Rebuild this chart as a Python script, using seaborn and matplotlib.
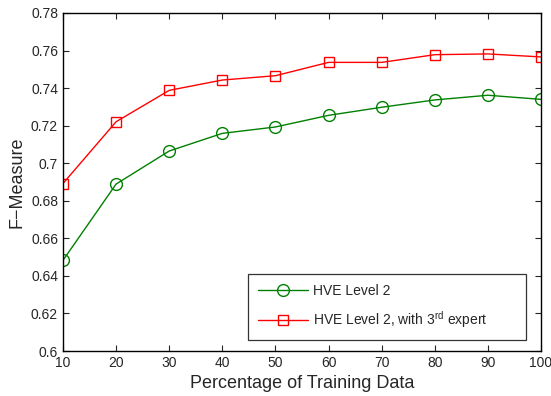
import matplotlib
matplotlib.use("Agg")
import matplotlib.pyplot as plt
import seaborn as sns
import pandas as pd

# ----------------------------------------------------------
# DATA
# ----------------------------------------------------------

train_pct = [10, 20, 30, 40, 50, 60, 70, 80, 90, 100]
hve_level2 = [0.6483, 0.6889, 0.7065, 0.7159, 0.7193, 0.7255, 0.7298, 0.7337, 0.7362, 0.7340]
hve_level2_expert = [0.6892, 0.7221, 0.7388, 0.7443, 0.7466, 0.7537, 0.7537, 0.7578, 0.7582, 0.7566]

y_ticks = [0.6, 0.62, 0.64, 0.66, 0.68, 0.7, 0.72, 0.74, 0.76, 0.78]
y_tick_labels = ["0.6", "0.62", "0.64", "0.66", "0.68", "0.7", "0.72", "0.74", "0.76", "0.78"]
x_ticks = [10, 20, 30, 40, 50, 60, 70, 80, 90, 100]

label_a = "HVE Level 2"
label_b = "HVE Level 2, with 3$^{\\mathrm{rd}}$ expert"

df_a = pd.DataFrame({"pct": train_pct, "fm": hve_level2})
df_b = pd.DataFrame({"pct": train_pct, "fm": hve_level2_expert})

# ----------------------------------------------------------
# PLOT
# ----------------------------------------------------------

sns.set_style("ticks")
plt.rcParams["font.family"] = ["Liberation Sans", "DejaVu Sans"]
plt.rcParams["mathtext.fontset"] = "custom"
plt.rcParams["mathtext.rm"] = "Liberation Sans"
plt.rcParams["xtick.direction"] = "in"
plt.rcParams["ytick.direction"] = "in"

fig = plt.figure(figsize=(5.51, 3.96), dpi=100)
ax = fig.add_axes([0.1143, 0.1136, 0.8676, 0.8536])

sns.lineplot(data=df_a, x="pct", y="fm", ax=ax, color="#008000",
             marker="o", markersize=8.5, markerfacecolor="none",
             markeredgecolor="#008000", markeredgewidth=1.0,
             linewidth=1.0, label=label_a)
sns.lineplot(data=df_b, x="pct", y="fm", ax=ax, color="#ff0000",
             marker="s", markersize=7, markerfacecolor="none",
             markeredgecolor="#ff0000", markeredgewidth=1.0,
             linewidth=1.0, label=label_b)

ax.set_xlim(10, 100)
ax.set_ylim(0.6, 0.78)
ax.set_xticks(x_ticks)
ax.set_yticks(y_ticks)
ax.set_yticklabels(y_tick_labels)
ax.tick_params(axis="both", labelsize=10, length=4, width=0.8,
               top=True, right=True)
for side in ax.spines.values():
    side.set_visible(True)
    side.set_linewidth(1.0)
    side.set_color("black")

ax.set_xlabel("Percentage of Training Data", fontsize=13)
ax.set_ylabel("F\u2212Measure", fontsize=13)

# MATLAB-style legend box, wider than its contents
leg = ax.legend(loc="lower left", bbox_to_anchor=(0.387, 0.0325, 0.582, 0.19),
                mode="expand", fontsize=10, frameon=True, fancybox=False,
                edgecolor="black", borderpad=0.7, labelspacing=0.85,
                handlelength=3.6, handletextpad=0.4, borderaxespad=0)
leg.get_frame().set_linewidth(0.9)

fig.savefig("out.png", dpi=100)
